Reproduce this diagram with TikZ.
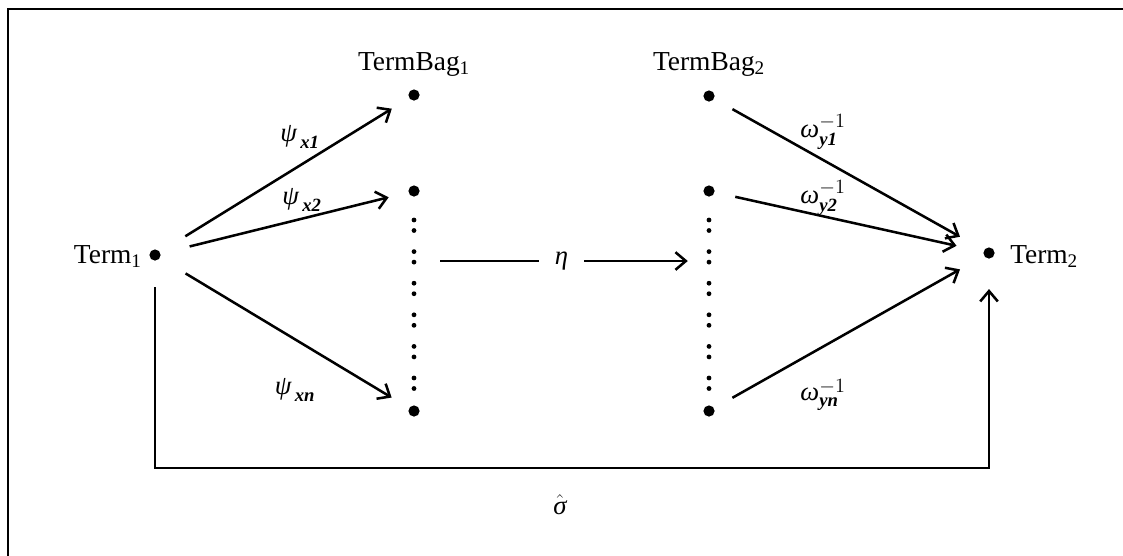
\documentclass[tikz,border=0pt]{standalone}
\usepackage{amsmath}
\usepackage{fontspec}
\setmainfont{Liberation Serif}
\usetikzlibrary{arrows.meta, positioning, calc}
\newcommand{\gk}[1]{\text{\itshape #1}}
\newcommand{\ix}[1]{\text{\bfseries\itshape #1}}
\tikzset{
  every picture/.style={line width=1.8pt},
  bigdot/.style={circle, fill=black, inner sep=0pt, minimum size=0.28cm},
  arrow/.style={-{Straight Barb[length=2.6mm, width=4.4mm]}},
  term/.style={font=\fontsize{19.5}{23}\selectfont, inner sep=0pt},
  lbl/.style={font=\fontsize{19}{22}\selectfont, inner sep=0pt},
}

\begin{document}
\begin{tikzpicture}[x=0.025cm, y=-0.025cm]
  \useasboundingbox (0,0) rectangle (1123,555);
  \clip (0,0) rectangle (1123,555);
  \draw[line width=1.5pt] (8,9) rectangle (1140,580);
  % terms and bags
  \node[bigdot] (t1) at (155,255) {};
  \node[bigdot] (t2) at (989,253) {};
  \node[bigdot] (a1) at (414,95) {};
  \node[bigdot] (a2) at (414,191) {};
  \node[bigdot] (an) at (414,411) {};
  \node[bigdot] (b1) at (709,96) {};
  \node[bigdot] (b2) at (709,191) {};
  \node[bigdot] (bn) at (709,411) {};
  \foreach \x in {414,709} {\foreach \k in {0,...,5} {\fill (\x,{220+31.6*\k}) circle (0.06cm); \fill (\x,{230.5+31.6*\k}) circle (0.06cm);}}
  \coordinate (am) at (414,261);
  \coordinate (bm) at (709,261);
  \coordinate (low) at (560,468);
  \node[term, anchor=base east] (n1) at (143,263) {Term\textsubscript{1}};
  \node[term, anchor=base west] (n2) at (1009,263) {Term\textsubscript{2}};
  \node[term, anchor=base] (na) at (414,70) {TermBag\textsubscript{1}};
  \node[term, anchor=base] (nb) at (709,70) {TermBag\textsubscript{2}};
  % psi arrows
  \foreach \d in {a1,a2,an} {\draw[arrow, shorten <=0.72cm, shorten >=0.48cm] (t1) -- (\d);}
  \foreach \l/\x/\y in {x1/300/137, x2/302/200, xn/295/390} {\node[lbl] at (\x,\y) {$\gk{ψ}_{\,\ix{\l}}$};}
  % omega arrows
  \foreach \s in {b1,b2,bn} {\draw[arrow, shorten <=0.5cm, shorten >=0.66cm] (\s) -- (t2);}
  \foreach \l/\x/\y in {y1/823/132, y2/823/198, yn/823/395} {\node[lbl] at (\x,\y) {$\gk{ω}_{\ix{\l}}^{-1}$};}
  % eta and sigma
  \draw[arrow, shorten <=0.65cm, shorten >=0.53cm] (am) -- node[lbl, fill=white, inner xsep=0.4cm] {$\gk{η}$} (bm);
  \draw[arrow, shorten <=0.63cm, shorten >=0.73cm] (t1) -- (t1 |- low) -| (t2);
  \node[lbl] (sig) at (560,505) {$\hat{\gk{σ}}$};
\end{tikzpicture}
\end{document}
